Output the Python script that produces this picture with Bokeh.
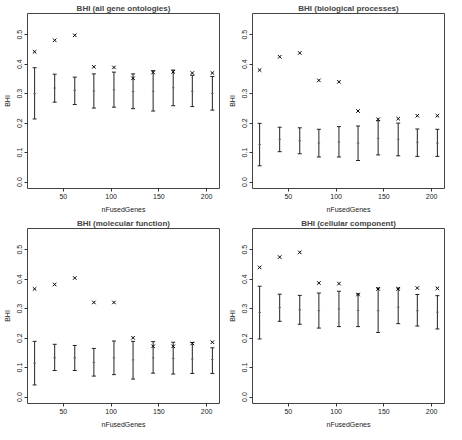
from bokeh.plotting import figure
from bokeh.layouts import column, row
from bokeh.models import Range1d, FixedTicker, PrintfTickFormatter
from bokeh.embed import file_html
from bokeh.resources import INLINE

# ---- data -------------------------------------------------------------
n_fused = [20, 41, 62, 82, 103, 123, 144, 165, 185, 206]

titles = ["BHI (all gene ontologies)", "BHI (biological processes)",
          "BHI (molecular function)", "BHI (cellular component)"]

# x-marked reference values
all_ref = [0.442, 0.481, 0.498, 0.391, 0.389, 0.352, 0.372, 0.374, 0.370, 0.370]
bp_ref  = [0.380, 0.425, 0.438, 0.345, 0.340, 0.241, 0.213, 0.215, 0.225, 0.225]
mf_ref  = [0.367, 0.382, 0.404, 0.321, 0.321, 0.201, 0.172, 0.172, 0.182, 0.186]
cc_ref  = [0.440, 0.475, 0.491, 0.387, 0.385, 0.348, 0.367, 0.367, 0.370, 0.369]

# error bars: upper, mean, lower
all_up   = [0.388, 0.366, 0.356, 0.367, 0.373, 0.367, 0.378, 0.380, 0.362, 0.358]
all_mean = [0.300, 0.319, 0.311, 0.309, 0.313, 0.307, 0.308, 0.320, 0.308, 0.301]
all_lo   = [0.214, 0.271, 0.263, 0.251, 0.254, 0.249, 0.241, 0.259, 0.256, 0.244]

bp_up   = [0.199, 0.186, 0.184, 0.179, 0.188, 0.190, 0.208, 0.200, 0.180, 0.179]
bp_mean = [0.127, 0.145, 0.140, 0.132, 0.136, 0.132, 0.148, 0.145, 0.135, 0.132]
bp_lo   = [0.055, 0.103, 0.096, 0.085, 0.085, 0.073, 0.092, 0.089, 0.087, 0.087]

mf_up   = [0.189, 0.179, 0.175, 0.165, 0.190, 0.189, 0.188, 0.186, 0.185, 0.167]
mf_mean = [0.115, 0.133, 0.133, 0.117, 0.133, 0.126, 0.133, 0.131, 0.129, 0.127]
mf_lo   = [0.041, 0.090, 0.090, 0.071, 0.076, 0.061, 0.081, 0.078, 0.080, 0.080]

cc_up   = [0.376, 0.349, 0.345, 0.353, 0.359, 0.350, 0.370, 0.370, 0.348, 0.344]
cc_mean = [0.287, 0.304, 0.296, 0.293, 0.299, 0.294, 0.293, 0.305, 0.293, 0.288]
cc_lo   = [0.197, 0.257, 0.247, 0.234, 0.239, 0.239, 0.219, 0.249, 0.241, 0.231]

x_ticks = [50, 100, 150, 200]
y_ticks = [0.0, 0.1, 0.2, 0.3, 0.4, 0.5]

FONT = "Liberation Sans"


def panel(title, ref, up, mean, lo, left_border, right_border):
    p = figure(frame_width=192, frame_height=175, output_backend="svg",
               toolbar_location=None, title=title,
               x_range=Range1d(12.56, 213.44), y_range=Range1d(-0.022, 0.572),
               min_border_left=left_border, min_border_right=right_border,
               min_border_top=12, min_border_bottom=25)
    p.title.text_font = FONT
    p.title.text_font_size = "8px"
    p.title.text_font_style = "bold"
    p.title.align = "center"
    p.title.standoff = 2
    p.xgrid.visible = False
    p.ygrid.visible = False
    p.outline_line_color = "#444444"
    p.outline_line_width = 1
    p.background_fill_color = "white"
    p.border_fill_color = "white"

    for ax in (p.xaxis[0], p.yaxis[0]):
        ax.axis_line_color = None
        ax.major_tick_out = 3
        ax.major_tick_in = 0
        ax.minor_tick_out = 0
        ax.minor_tick_in = 0
        ax.major_tick_line_color = "#333333"
        ax.major_label_text_font = FONT
        ax.major_label_text_font_size = "7px"
        ax.major_label_text_color = "#222222"
        ax.major_label_standoff = 2
        ax.axis_label_text_font = FONT
        ax.axis_label_text_font_size = "7px"
        ax.axis_label_text_font_style = "normal"
        ax.axis_label_text_color = "#222222"
        ax.axis_label_standoff = 4
    p.xaxis.ticker = FixedTicker(ticks=x_ticks)
    p.yaxis.ticker = FixedTicker(ticks=y_ticks)
    p.yaxis.formatter = PrintfTickFormatter(format="%.1f")
    p.yaxis.major_label_orientation = "vertical"
    p.xaxis.axis_label = "nFusedGenes"
    p.yaxis.axis_label = "BHI"

    # error bars
    p.segment(x0=n_fused, y0=lo, x1=n_fused, y1=up, line_color="#222222", line_width=1)
    p.scatter(n_fused, up, marker="dash", size=4, line_color="#222222", line_width=1)
    p.scatter(n_fused, lo, marker="dash", size=4, line_color="#222222", line_width=1)
    p.scatter(n_fused, mean, marker="dash", size=2.5, line_color="#666666", line_width=1)
    # reference values
    p.scatter(n_fused, ref, marker="x", size=5, line_color="black", line_width=1)
    return p


p1 = panel(titles[0], all_ref, all_up, all_mean, all_lo, 27, 3)
p2 = panel(titles[1], bp_ref, bp_up, bp_mean, bp_lo, 30, 2)
p3 = panel(titles[2], mf_ref, mf_up, mf_mean, mf_lo, 27, 3)
p4 = panel(titles[3], cc_ref, cc_up, cc_mean, cc_lo, 30, 2)

layout = column(row(p1, p2), row(p3, p4))

open("out.html", "w").write(file_html(layout, INLINE))
